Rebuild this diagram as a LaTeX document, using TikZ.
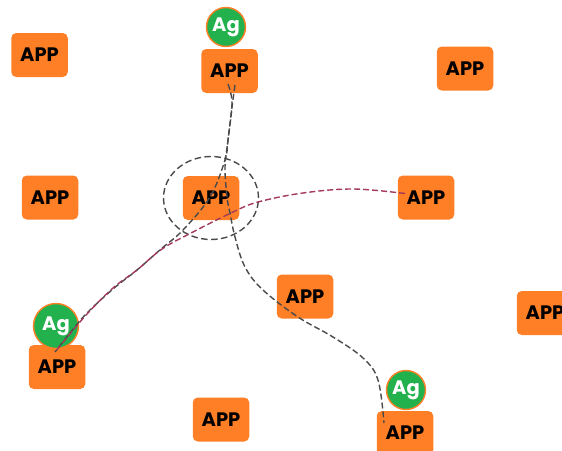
\documentclass[tikz,border=0pt]{standalone}
\usepackage{fontspec}
\usetikzlibrary{shapes.geometric}
\setmainfont{Poppins}
\definecolor{appor}{HTML}{FF7F27}
\definecolor{aggr}{HTML}{22B14C}
\definecolor{wineline}{HTML}{A33A5A}
\definecolor{greyline}{HTML}{4A4A4A}
\tikzset{
 appbox/.style={fill=appor,rounded corners=5pt,minimum width=56.5pt,minimum height=44pt,inner sep=0pt,
   font=\fontsize{19.5}{20}\selectfont\bfseries,text=black},
 agent/.style={circle,draw=appor,line width=1.4pt,fill=aggr,inner sep=0pt,text=white,font=\fontsize{19.5}{20}\selectfont\bfseries},
 link/.style={draw=greyline,line width=1.4pt,dash pattern=on 6pt off 3pt},
 winelink/.style={draw=wineline,line width=1.4pt,dash pattern=on 6pt off 3pt},
 ring/.style={ellipse,draw=greyline,line width=1.4pt,dash pattern=on 6.5pt off 3.5pt,minimum width=95pt,minimum height=83pt,inner sep=0pt},
}
\begin{document}
\begin{tikzpicture}[x=1pt,y=-1pt]
\useasboundingbox (0,0) rectangle (562,450);
\clip (0,0) rectangle (562,450);
\node[appbox] (a1) at (39.5,55) {APP};
\node[appbox] (a2) at (229.5,71) {APP};
\node[appbox] (a3) at (465,68.5) {APP};
\node[appbox] (a4) at (50,197.5) {APP};
\node[appbox] (a5) at (211,198) {APP};
\node[appbox] (a6) at (426,197.5) {APP};
\node[appbox] (a7) at (305,296.5) {APP};
\node[appbox] (a8) at (545,313) {APP};
\node[appbox] (a9) at (57,367) {APP};
\node[appbox] (a10) at (221,419.5) {APP};
\node[appbox] (a11) at (405,433) {APP};
\node[agent,minimum size=39pt] (g1) at (226,27) {Ag};
\node[agent,minimum size=45pt] (g2) at (56,326) {Ag};
\node[agent,minimum size=39pt] (g3) at (406,390) {Ag};
\node[ring] (r) at (a5) {};
\coordinate (s1) at ([shift={(5.5,14)}]a2.center);
\coordinate (s2) at ([shift={(-1.5,13)}]a2.center);
\coordinate (e1) at ([shift={(-2,-15)}]a9.center);
\coordinate (e2) at ([shift={(-21,-10)}]a11.center);
\coordinate (s3) at ([shift={(-21,-4)}]a6.center);
\draw[link] plot[smooth,tension=0.6] coordinates {(s1) (232,107) (228,140) (225,160) (210,197) (183,230) (161,249) (137,270) (113,289) (87,313) (70,333) (e1)};
\draw[link] plot[smooth,tension=0.6] coordinates {(s2) (232,103) (228,140) (225,167) (227,197) (230,213) (235,237) (245,267) (263,290) (298,317) (333,337) (363,358) (378,380) (e2)};
\draw[winelink] plot[smooth,tension=0.6] coordinates {(s3) (353,189) (303,193) (258,202) (233,212) (193,232) (162,249) (137,270) (113,288) (87,314) (70,334) (e1)};
\end{tikzpicture}
\end{document}
